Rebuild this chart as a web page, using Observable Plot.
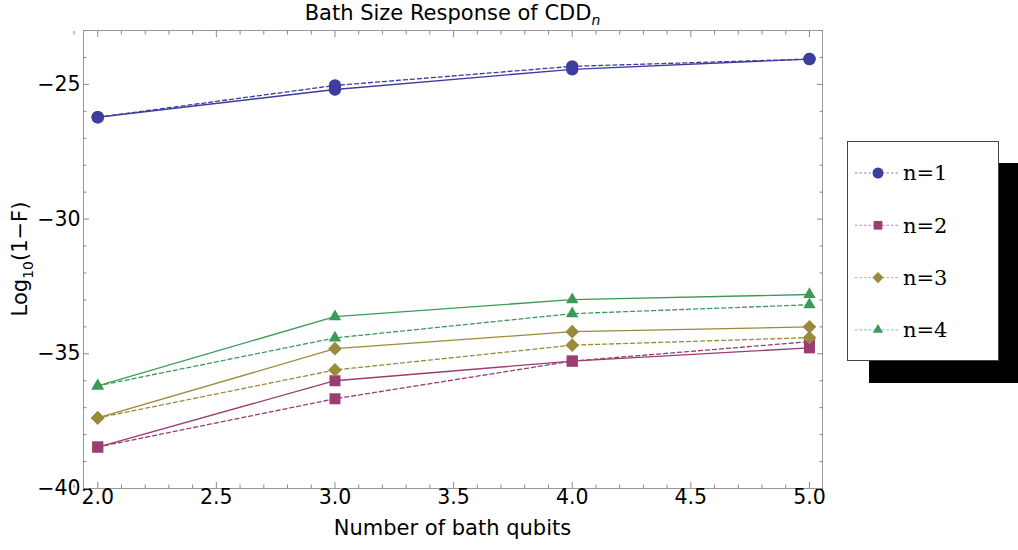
<!DOCTYPE html>
<html>
<head>
<meta charset="utf-8">
<script src="https://cdn.jsdelivr.net/npm/d3@7"></script>
<script src="https://cdn.jsdelivr.net/npm/@observablehq/plot@0.6"></script>
<style>
  html, body { margin: 0; padding: 0; background: #fff; }
  #wrap { position: relative; width: 1018px; height: 550px; overflow: hidden; font-family: "DejaVu Sans", sans-serif; }
  #wrap svg.plot { position: absolute; left: 0; top: 0; }
  .title { position: absolute; left: 83px; width: 739px; top: 0px; height: 28px; line-height: 26px; text-align: center; font-size: 21px; color: #000; }
  .xlabel { position: absolute; left: 83px; width: 739px; top: 516px; text-align: center; font-size: 21px; }
  .ylabel { position: absolute; left: 22px; top: 259px; transform: translate(-50%, -50%) rotate(-90deg); white-space: nowrap; font-size: 21px; }
  .shadow { position: absolute; left: 869px; top: 163px; width: 149px; height: 220px; background: #000; }
  .legend { position: absolute; left: 847px; top: 141px; width: 150px; height: 218px; background: #fff; border: 1px solid #444; }
</style>
</head>
<body>
<div id="wrap">
  <div class="title">Bath Size Response of CDD<sub style="font-size:14px;font-style:italic;line-height:0;">n</sub></div>
  <div class="xlabel">Number of bath qubits</div>
  <div class="ylabel">Log<sub style="font-size:14px;">10</sub>(1−F)</div>
  <div class="shadow"></div>
  <div class="legend"><svg id="leg" width="150" height="218"></svg></div>
</div>
<script>
// ---- data ----
const bathQubits = [2, 3, 4, 5];
const seriesNames = ["n=1", "n=2", "n=3", "n=4"];
const seriesColors = ["#3d3d9e", "#9a3d72", "#9a8a3c", "#3c9a58"];
const seriesSymbols = ["circle", "square", "diamond2", "triangle"];
// solid lines
const solidN1 = [-26.22, -25.19, -24.44, -24.06];
const solidN2 = [-38.46, -36.00, -35.27, -34.78];
const solidN3 = [-37.38, -34.81, -34.18, -34.00];
const solidN4 = [-36.19, -33.62, -32.99, -32.80];
// dashed lines
const dashedN1 = [-26.22, -25.04, -24.33, -24.06];
const dashedN2 = [-38.46, -36.67, -35.27, -34.55];
const dashedN3 = [-37.38, -35.60, -34.68, -34.40];
const dashedN4 = [-36.19, -34.41, -33.51, -33.18];
// axis ticks
const xMajorTicks = [2.0, 2.5, 3.0, 3.5, 4.0, 4.5, 5.0];
const yMajorTicks = [-40, -35, -30, -25];

const solidSets = [solidN1, solidN2, solidN3, solidN4];
const dashedSets = [dashedN1, dashedN2, dashedN3, dashedN4];
const rows = [];
seriesNames.forEach((s, i) => {
  bathQubits.forEach((q, j) => {
    rows.push({series: s, style: "solid", x: q, y: solidSets[i][j]});
    rows.push({series: s, style: "dashed", x: q, y: dashedSets[i][j]});
  });
});
const solidRows = rows.filter(d => d.style === "solid");
const dashedRows = rows.filter(d => d.style === "dashed");

const xMinor = d3.range(19, 51).map(v => v / 10).filter(v => !xMajorTicks.some(t => Math.abs(t - v) < 1e-9));
const yMinor = d3.range(-40, -22).filter(v => !yMajorTicks.includes(v));

const tickColor = "#888";
const markerR = {"n=1": 6.2, "n=2": 6.2, "n=3": 6.2, "n=4": 4.6};

const plot = Plot.plot({
  width: 1018,
  height: 550,
  marginLeft: 83,
  marginRight: 196,
  marginTop: 30,
  marginBottom: 62,
  style: {fontFamily: "DejaVu Sans, sans-serif", fontSize: "20.5px", color: "#000", background: "transparent"},
  x: {domain: [1.94, 5.055], label: null},
  y: {domain: [-40, -23], label: null},
  color: {domain: seriesNames, range: seriesColors},
  symbol: {domain: seriesNames, range: seriesSymbols},
  marks: [
    Plot.frame({stroke: "#999"}),
    // tick labels
    Plot.axisX({ticks: xMajorTicks, tickSize: 0, tickPadding: 1, tickFormat: d3.format(".1f"), label: null}),
    Plot.axisY({ticks: yMajorTicks, tickSize: 0, tickPadding: 3, label: null}),
    // inward tick marks, all four sides
    Plot.axisX({anchor: "bottom", ticks: xMajorTicks, tickSize: -6, tickFormat: () => "", stroke: tickColor, label: null}),
    Plot.axisX({anchor: "bottom", ticks: xMinor, tickSize: -3.5, tickFormat: () => "", stroke: tickColor, label: null}),
    Plot.axisX({anchor: "top", ticks: xMajorTicks, tickSize: -6, tickFormat: () => "", stroke: tickColor, label: null}),
    Plot.axisX({anchor: "top", ticks: xMinor, tickSize: -3.5, tickFormat: () => "", stroke: tickColor, label: null}),
    Plot.axisY({anchor: "left", ticks: yMajorTicks, tickSize: -6, tickFormat: () => "", stroke: tickColor, label: null}),
    Plot.axisY({anchor: "left", ticks: yMinor, tickSize: -3.5, tickFormat: () => "", stroke: tickColor, label: null}),
    Plot.axisY({anchor: "right", ticks: yMajorTicks, tickSize: -6, tickFormat: () => "", stroke: tickColor, label: null}),
    Plot.axisY({anchor: "right", ticks: yMinor, tickSize: -3.5, tickFormat: () => "", stroke: tickColor, label: null}),
    // lines
    Plot.line(dashedRows, {x: "x", y: "y", z: "series", stroke: "series", strokeWidth: 1.3, strokeDasharray: "4,3"}),
    Plot.line(solidRows, {x: "x", y: "y", z: "series", stroke: "series", strokeWidth: 1.3}),
    // markers, one mark per series so each symbol gets its own size
    ...seriesNames.map(s =>
      Plot.dot(rows.filter(d => d.series === s), {x: "x", y: "y", fill: "series", symbol: "series", r: markerR[s]})
    )
  ]
});
plot.classList.add("plot");
document.getElementById("wrap").prepend(plot);

// legend
const leg = d3.select("#leg");
const symScale = d3.scaleOrdinal(seriesNames, [d3.symbolCircle, d3.symbolSquare, d3.symbolDiamond2, d3.symbolTriangle]);
const legSize = {"n=1": 95, "n=2": 75, "n=3": 80, "n=4": 45};
seriesNames.forEach((s, i) => {
  const cy = 31 + i * 52.3;
  const g = leg.append("g");
  g.append("line").attr("x1", 7).attr("x2", 52).attr("y1", cy).attr("y2", cy)
    .attr("stroke", seriesColors[i]).attr("stroke-width", 0.8).attr("stroke-dasharray", "2.5,2").attr("opacity", 0.8);
  g.append("path").attr("transform", `translate(30,${cy})`)
    .attr("d", d3.symbol(symScale(s), legSize[s])()).attr("fill", seriesColors[i]);
  g.append("text").attr("x", 55).attr("y", cy).attr("dy", "0.35em")
    .attr("font-family", "DejaVu Serif, Liberation Serif, serif").attr("font-size", 21).text(s);
});
</script>
</body>
</html>
